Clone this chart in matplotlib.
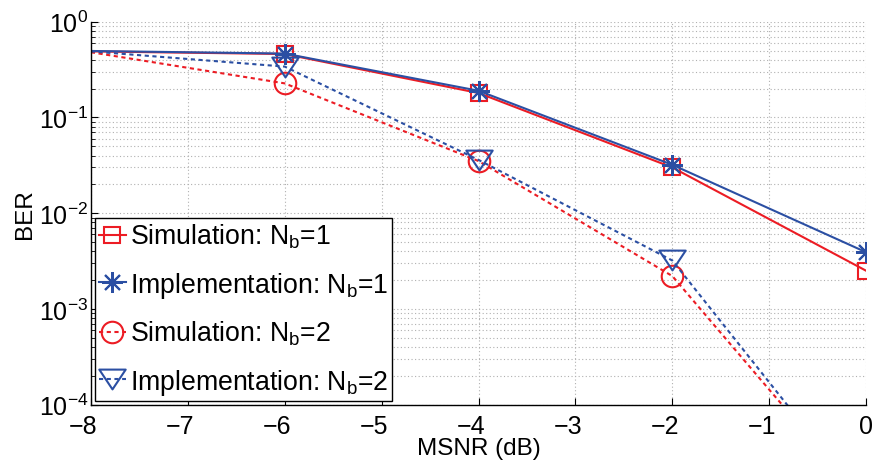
import matplotlib
matplotlib.use("Agg")
import matplotlib.pyplot as plt
from matplotlib.path import Path
from matplotlib.ticker import LogLocator, FixedLocator, NullFormatter
from matplotlib.transforms import ScaledTranslation

# BER versus MSNR for one and two bits per symbol
msnr = [-8, -6, -4, -2, 0]
ber_sim_nb1 = [0.49, 0.46, 0.18, 0.030, 0.0025]
ber_imp_nb1 = [0.495, 0.465, 0.19, 0.032, 0.0039]
ber_sim_nb2 = [0.48, 0.227, 0.035, 0.0022, 9.3e-6]
ber_imp_nb2 = [0.49, 0.34, 0.036, 0.0032, 9.1e-6]

labels = ["Simulation: N$_\\mathrm{b}$=1",
          "Implementation: N$_\\mathrm{b}$=1",
          "Simulation: N$_\\mathrm{b}$=2",
          "Implementation: N$_\\mathrm{b}$=2"]

RED = "#EC1C24"
BLUE = "#2B4FA3"

plt.rcParams["font.family"] = ["Liberation Sans", "DejaVu Sans"]
plt.rcParams["mathtext.fontset"] = "custom"
plt.rcParams["mathtext.rm"] = "Liberation Sans"
plt.rcParams["mathtext.it"] = "Liberation Sans:italic"
plt.rcParams["mathtext.bf"] = "Liberation Sans:bold"

# wide downward triangle and eight-armed asterisk
tri = Path([(-1.0, 0.75), (1.0, 0.75), (0.0, -0.75), (-1.0, 0.75)],
           [Path.MOVETO, Path.LINETO, Path.LINETO, Path.CLOSEPOLY])
star = (8, 2, 0)

fig = plt.figure(figsize=(8.74, 4.64), dpi=100)
ax = fig.add_axes([0.104, 0.126, 0.887, 0.825])

dash = (2.0, 1.7)
lw = 1.5
marks = slice(1, None)   # no marker on the first point
ax.semilogy(msnr, ber_sim_nb1, color=RED, lw=lw, marker="s", ms=12,
            mfc="none", mec=RED, mew=1.5, markevery=marks, label=labels[0])
ax.semilogy(msnr, ber_imp_nb1, color=BLUE, lw=lw, marker=star, ms=15,
            mec=BLUE, mew=1.5, markevery=marks, label=labels[1])
ax.semilogy(msnr, ber_sim_nb2, color=RED, lw=lw, dashes=dash, marker="o",
            ms=15.5, mfc="none", mec=RED, mew=1.5, markevery=marks,
            label=labels[2])
ax.semilogy(msnr, ber_imp_nb2, color=BLUE, lw=lw, dashes=dash, marker=tri,
            ms=19, mfc="none", mec=BLUE, mew=1.5, markevery=marks,
            label=labels[3])

ax.set_xlim(-8, 0)
ax.set_ylim(1e-4, 1)
ax.xaxis.set_major_locator(FixedLocator(range(-8, 1)))
ax.yaxis.set_major_locator(LogLocator(base=10, numticks=10))
ax.yaxis.set_minor_locator(LogLocator(base=10, subs=range(2, 10), numticks=20))
ax.yaxis.set_minor_formatter(NullFormatter())

grid_kw = dict(color="#b0b0b0", linestyle=(0, (1, 2.2)), linewidth=0.8)
ax.grid(True, which="major", axis="both", **grid_kw)
ax.grid(True, which="minor", axis="y", **grid_kw)

for s in ("top", "right"):
    ax.spines[s].set_visible(False)
for s in ("left", "bottom"):
    ax.spines[s].set_linewidth(1.0)

ax.tick_params(which="both", direction="in", labelsize=18, top=False, right=False)
ax.tick_params(which="major", length=5, width=0.8)
ax.tick_params(which="minor", length=3, width=0.6)
ax.tick_params(axis="y", pad=2)
ax.tick_params(axis="x", pad=7)

# keep the digits of negative tick labels centred on their ticks
shift = ScaledTranslation(-5.5 / 72, 0, fig.dpi_scale_trans)
for lab, v in zip(ax.get_xticklabels(), range(-8, 1)):
    if v < 0:
        lab.set_transform(lab.get_transform() + shift)

ax.set_xlabel("MSNR (dB)", fontsize=17.5, labelpad=-1)
ax.set_ylabel("BER", fontsize=17.5, labelpad=2)

leg = ax.legend(loc="lower left", fontsize=19.2, frameon=True, fancybox=False,
                edgecolor="black", framealpha=1, borderpad=0.15,
                labelspacing=0.72, handlelength=1.0, handletextpad=0.15,
                borderaxespad=0.15, numpoints=1)
leg.get_frame().set_linewidth(1.0)

fig.savefig("out.png", dpi=100)
